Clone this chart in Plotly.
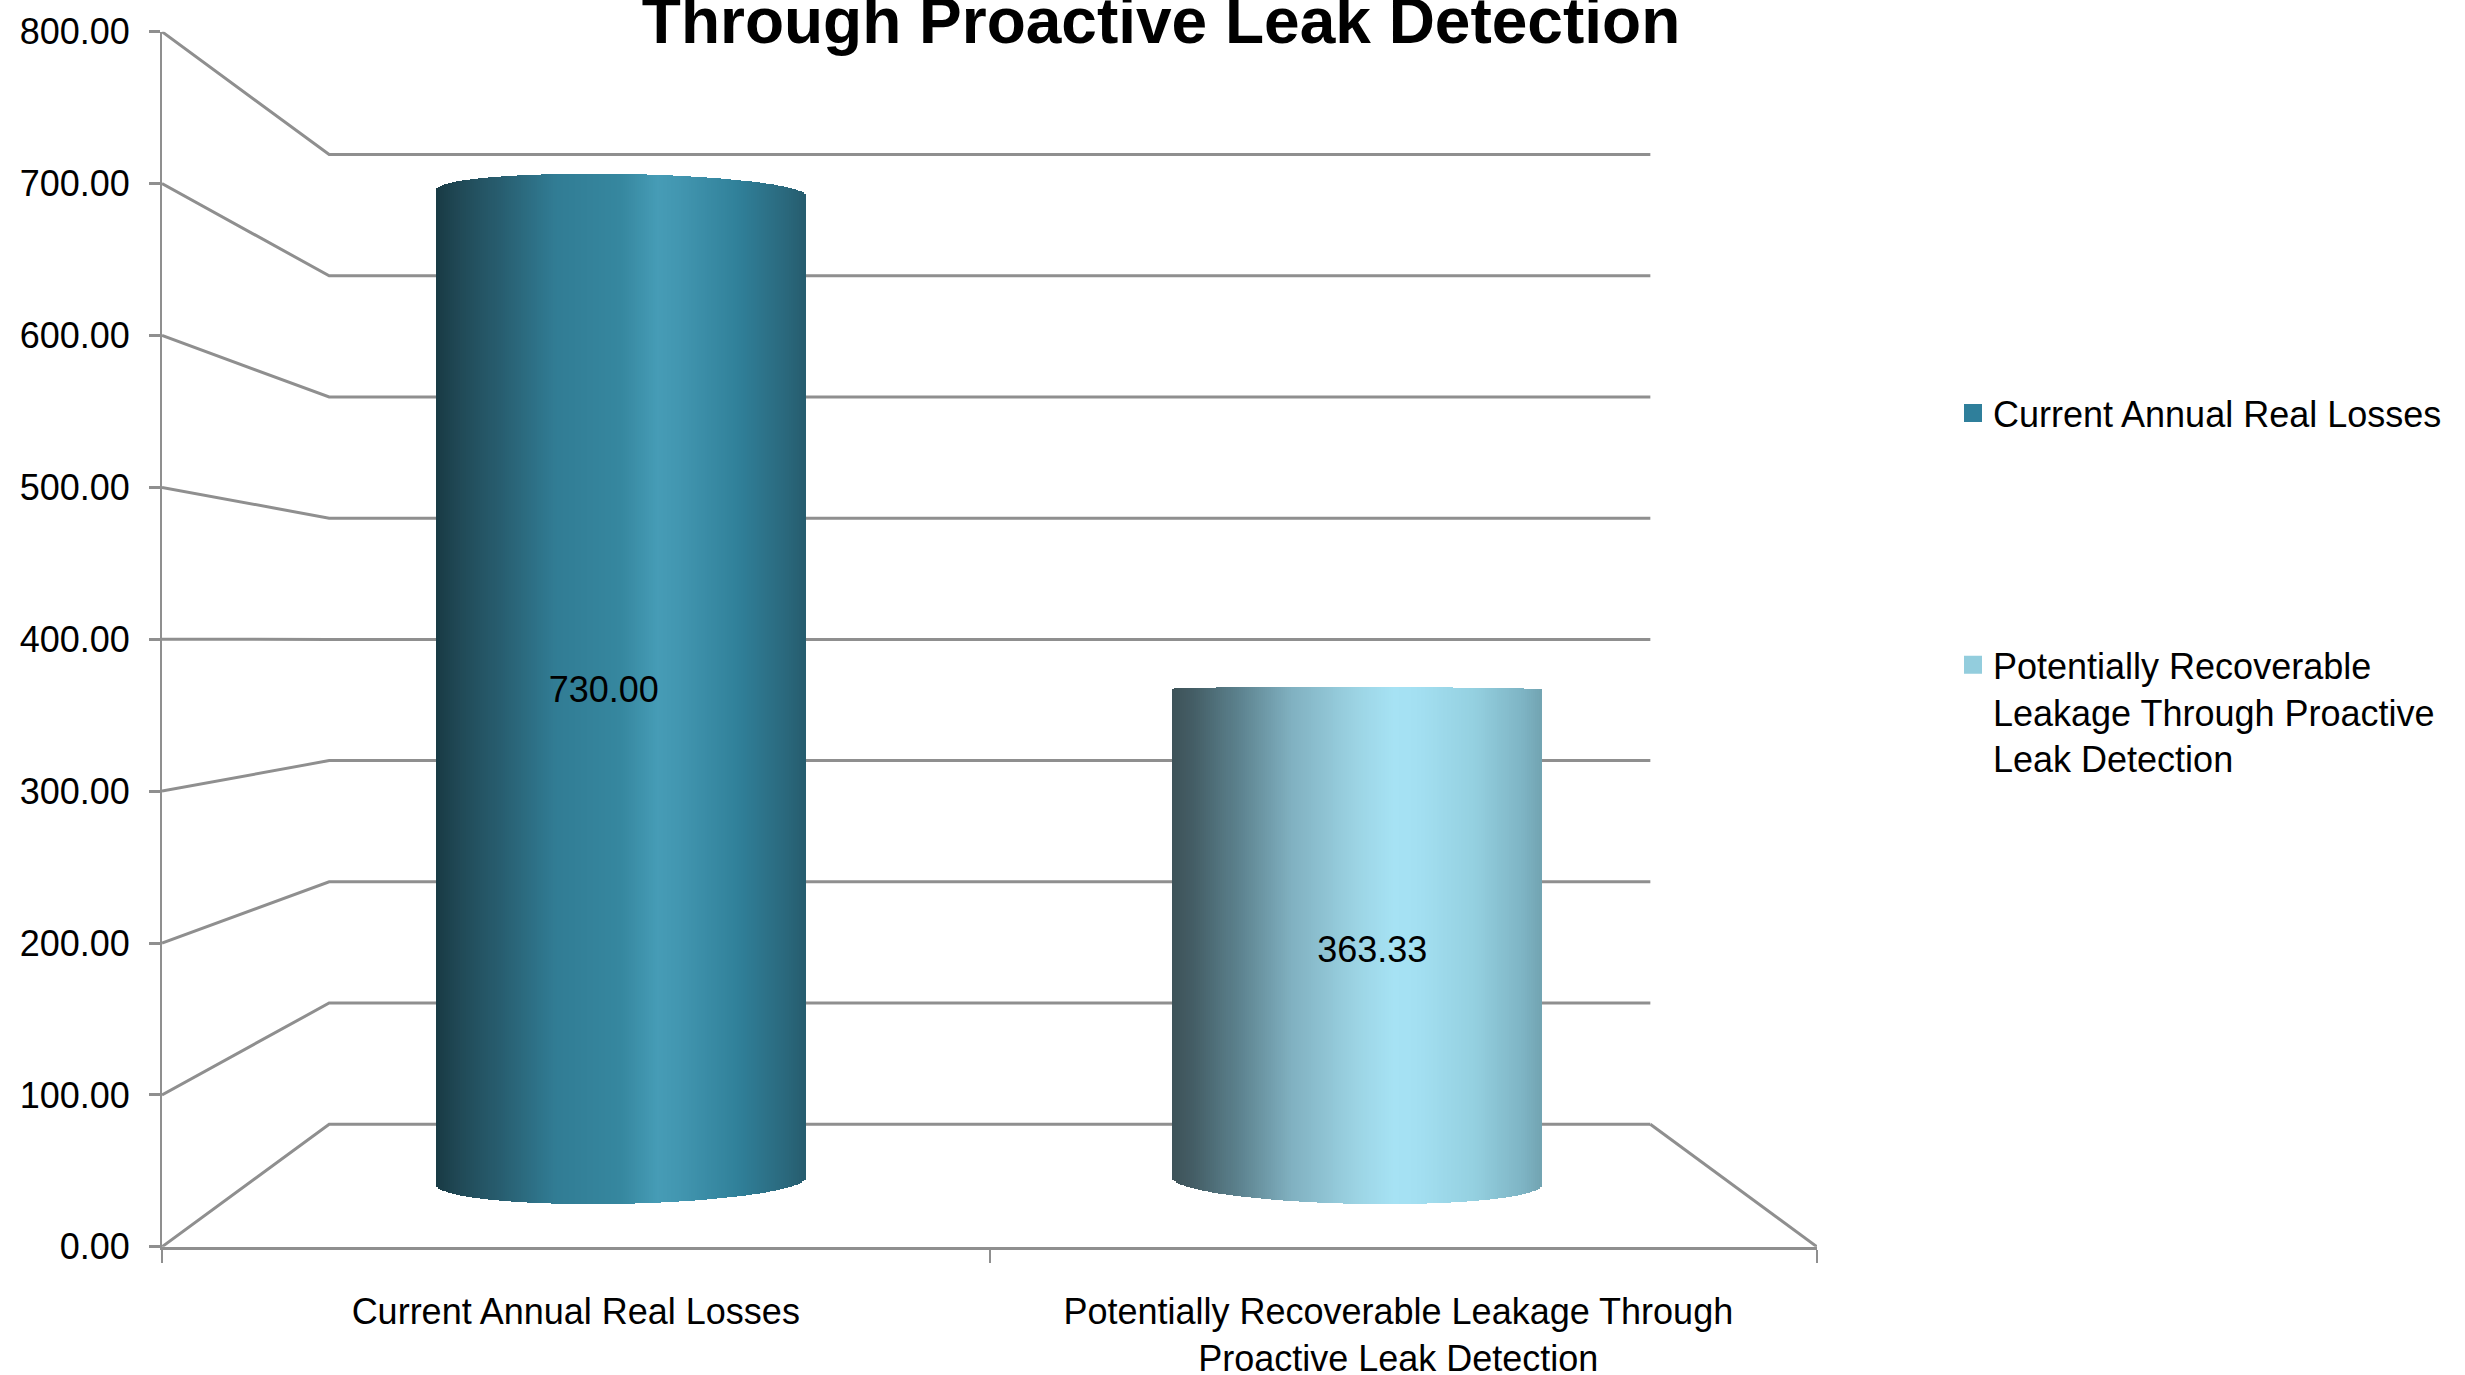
import numpy as np
import plotly.graph_objects as go

W, H = 2465, 1375

# Chart content
title_text = "Through Proactive Leak Detection"
categories = ["Current Annual Real Losses",
              "Potentially Recoverable Leakage Through<br>Proactive Leak Detection"]
series_names = ["Current Annual Real Losses",
                "Potentially Recoverable<br>Leakage Through Proactive<br>Leak Detection"]
values = [730.00, 363.33]
value_ticks = [0, 100, 200, 300, 400, 500, 600, 700, 800]

# Cylinder shading, left edge to right edge
stops_u = [0.0, 0.06, 0.18, 0.32, 0.50, 0.60, 0.66, 0.82, 0.95, 1.0]
shades = [
    [(24, 58, 68), (32, 72, 85), (40, 95, 113), (49, 124, 148), (54, 135, 159),
     (70, 156, 182), (66, 150, 176), (48, 128, 153), (42, 104, 124), (38, 92, 110)],
    [(62, 82, 88), (68, 94, 102), (92, 130, 142), (128, 176, 192), (156, 212, 228),
     (166, 226, 244), (164, 224, 242), (148, 208, 224), (126, 180, 196), (114, 164, 178)],
]
swatches = ["#2f7f9b", "#93cddd"]

FONT = "Liberation Sans, Arial, sans-serif"
TXT = 36
GRID = "#8f8f8f"

# Pixel frame of the two planes: the front plane carries the axes, the
# middle plane (half way into the depth) carries the cylinders.
def xdom(a, b):
    return [a / W, b / W]

def ydom(bottom, top):
    return [1 - bottom / H, 1 - top / H]

# Wall and floor lines, expressed in front-plane axis units
BACK_OFFSET, BACK_SCALE = 80.7, 0.798
BACK_LEFT, BACK_RIGHT = -0.298, 1.2986

wx, wy = [], []
for v in value_ticks:
    back = BACK_OFFSET + BACK_SCALE * v
    wx += [-0.5, BACK_LEFT, BACK_RIGHT, None]
    wy += [v, back, back, None]
wx += [BACK_RIGHT, 1.5]
wy += [BACK_OFFSET, 0]

fig = go.Figure()
fig.add_trace(go.Scatter(x=wx, y=wy, mode="lines", showlegend=False, hoverinfo="skip",
                         line=dict(color=GRID, width=3), cliponaxis=False))

# Cylinders: a plain bar per series, wrapped by thin shaded strips whose ends
# follow the elliptical rims.
HALF = 0.2507
N = 184
EYE, RIM_K, TILT_K = 400.0, 0.0425, 0.0067

def rim(v, u):
    return RIM_K * abs(v - EYE) * np.sqrt(1 - u ** 2)

for i, (val, shade) in enumerate(zip(values, shades)):
    fig.add_trace(go.Bar(x=[i], y=[val], width=[HALF * 1.9], xaxis="x2", yaxis="y2",
                         marker=dict(color=swatches[i], line=dict(width=0)),
                         showlegend=False, hoverinfo="skip"))
    u = np.linspace(-1 + 1 / N, 1 - 1 / N, N)
    cx = -1 if i == 0 else 1
    top = val + rim(val, u) + TILT_K * cx * (val - EYE) * u
    bot = -rim(0, u) + TILT_K * cx * (0 - EYE) * u
    t = (u + 1) / 2
    shade = np.array(shade, float)
    rgb = [np.interp(t, stops_u, shade[:, k]) for k in range(3)]
    colors = [f"rgb({r:.0f},{g:.0f},{b:.0f})" for r, g, b in zip(*rgb)]
    fig.add_trace(go.Bar(x=i + HALF * u, y=top - bot, base=bot,
                         width=[2.3 * HALF / N] * N, xaxis="x2", yaxis="y2",
                         marker=dict(color=colors, line=dict(width=0)),
                         showlegend=False, hoverinfo="skip"))

# Value labels on the cylinders
label_x = [-0.0238, 1.0204]
label_y = [values[0] / 2 - 4.5, values[1] / 2 - 13.5]
fig.add_trace(go.Scatter(x=label_x, y=label_y, mode="text", xaxis="x2", yaxis="y2",
                         text=[f"{v:.2f}" for v in values], showlegend=False,
                         textfont=dict(family=FONT, size=TXT, color="black"),
                         hoverinfo="skip"))

# Legend entries
for i, name in enumerate(series_names):
    fig.add_trace(go.Scatter(x=[None], y=[None], mode="markers", name=name,
                             legendgroup=f"s{i}",
                             marker=dict(symbol="square", size=16, color=swatches[i],
                                         line=dict(color=swatches[i], width=2))))

fig.update_layout(
    width=W, height=H, autosize=False, barmode="overlay", bargap=0,
    margin=dict(l=0, r=0, t=0, b=0, pad=0, autoexpand=False),
    paper_bgcolor="white", plot_bgcolor="rgba(0,0,0,0)",
    font=dict(family=FONT, size=TXT, color="black"),
    title=dict(text=f"<b>{title_text}</b>", x=1161 / W, xanchor="center",
               y=1 - 21 / H, yanchor="middle",
               font=dict(family=FONT, size=64, color="black")),
    xaxis=dict(domain=xdom(162, 1817), range=[-0.5, 1.5], tickmode="array",
               tickvals=[0, 0.994], ticktext=categories, ticks="", automargin=False,
               showgrid=False, zeroline=False, showline=True,
               linecolor=GRID, linewidth=3, anchor="y",
               tickfont=dict(family=FONT, size=TXT), ticklabelstandoff=31,
               minor=dict(tickmode="array", tickvals=[-0.5, 0.5, 1.5], ticks="outside",
                          ticklen=13, tickwidth=2, tickcolor=GRID, showgrid=False)),
    yaxis=dict(domain=ydom(1246.8, 31.7), range=[0, 800], tickmode="array",
               tickvals=value_ticks, ticktext=[f"{v:.2f}" for v in value_ticks],
               ticks="outside", ticklen=11, tickwidth=3, tickcolor=GRID, automargin=False,
               showgrid=False, zeroline=False, showline=True,
               linecolor=GRID, linewidth=2, anchor="x", ticklabelstandoff=12,
               tickfont=dict(family=FONT, size=TXT)),
    xaxis2=dict(domain=xdom(253.25, 1725.25), range=[-0.5, 1.5], visible=False,
                anchor="y2", fixedrange=True, automargin=False),
    yaxis2=dict(domain=ydom(1181 + 40 * 1.3534, 1181 - 840 * 1.3534), range=[-40, 840],
                visible=False, anchor="x2", fixedrange=True, automargin=False),
    legend=dict(x=1953 / W, xanchor="left", y=1 - 383 / H, yanchor="top",
                valign="top", tracegroupgap=202, itemsizing="trace",
                bgcolor="rgba(0,0,0,0)", borderwidth=0,
                font=dict(family=FONT, size=TXT, color="black")),
)

fig.write_html("out.html", config=dict(displayModeBar=False))
